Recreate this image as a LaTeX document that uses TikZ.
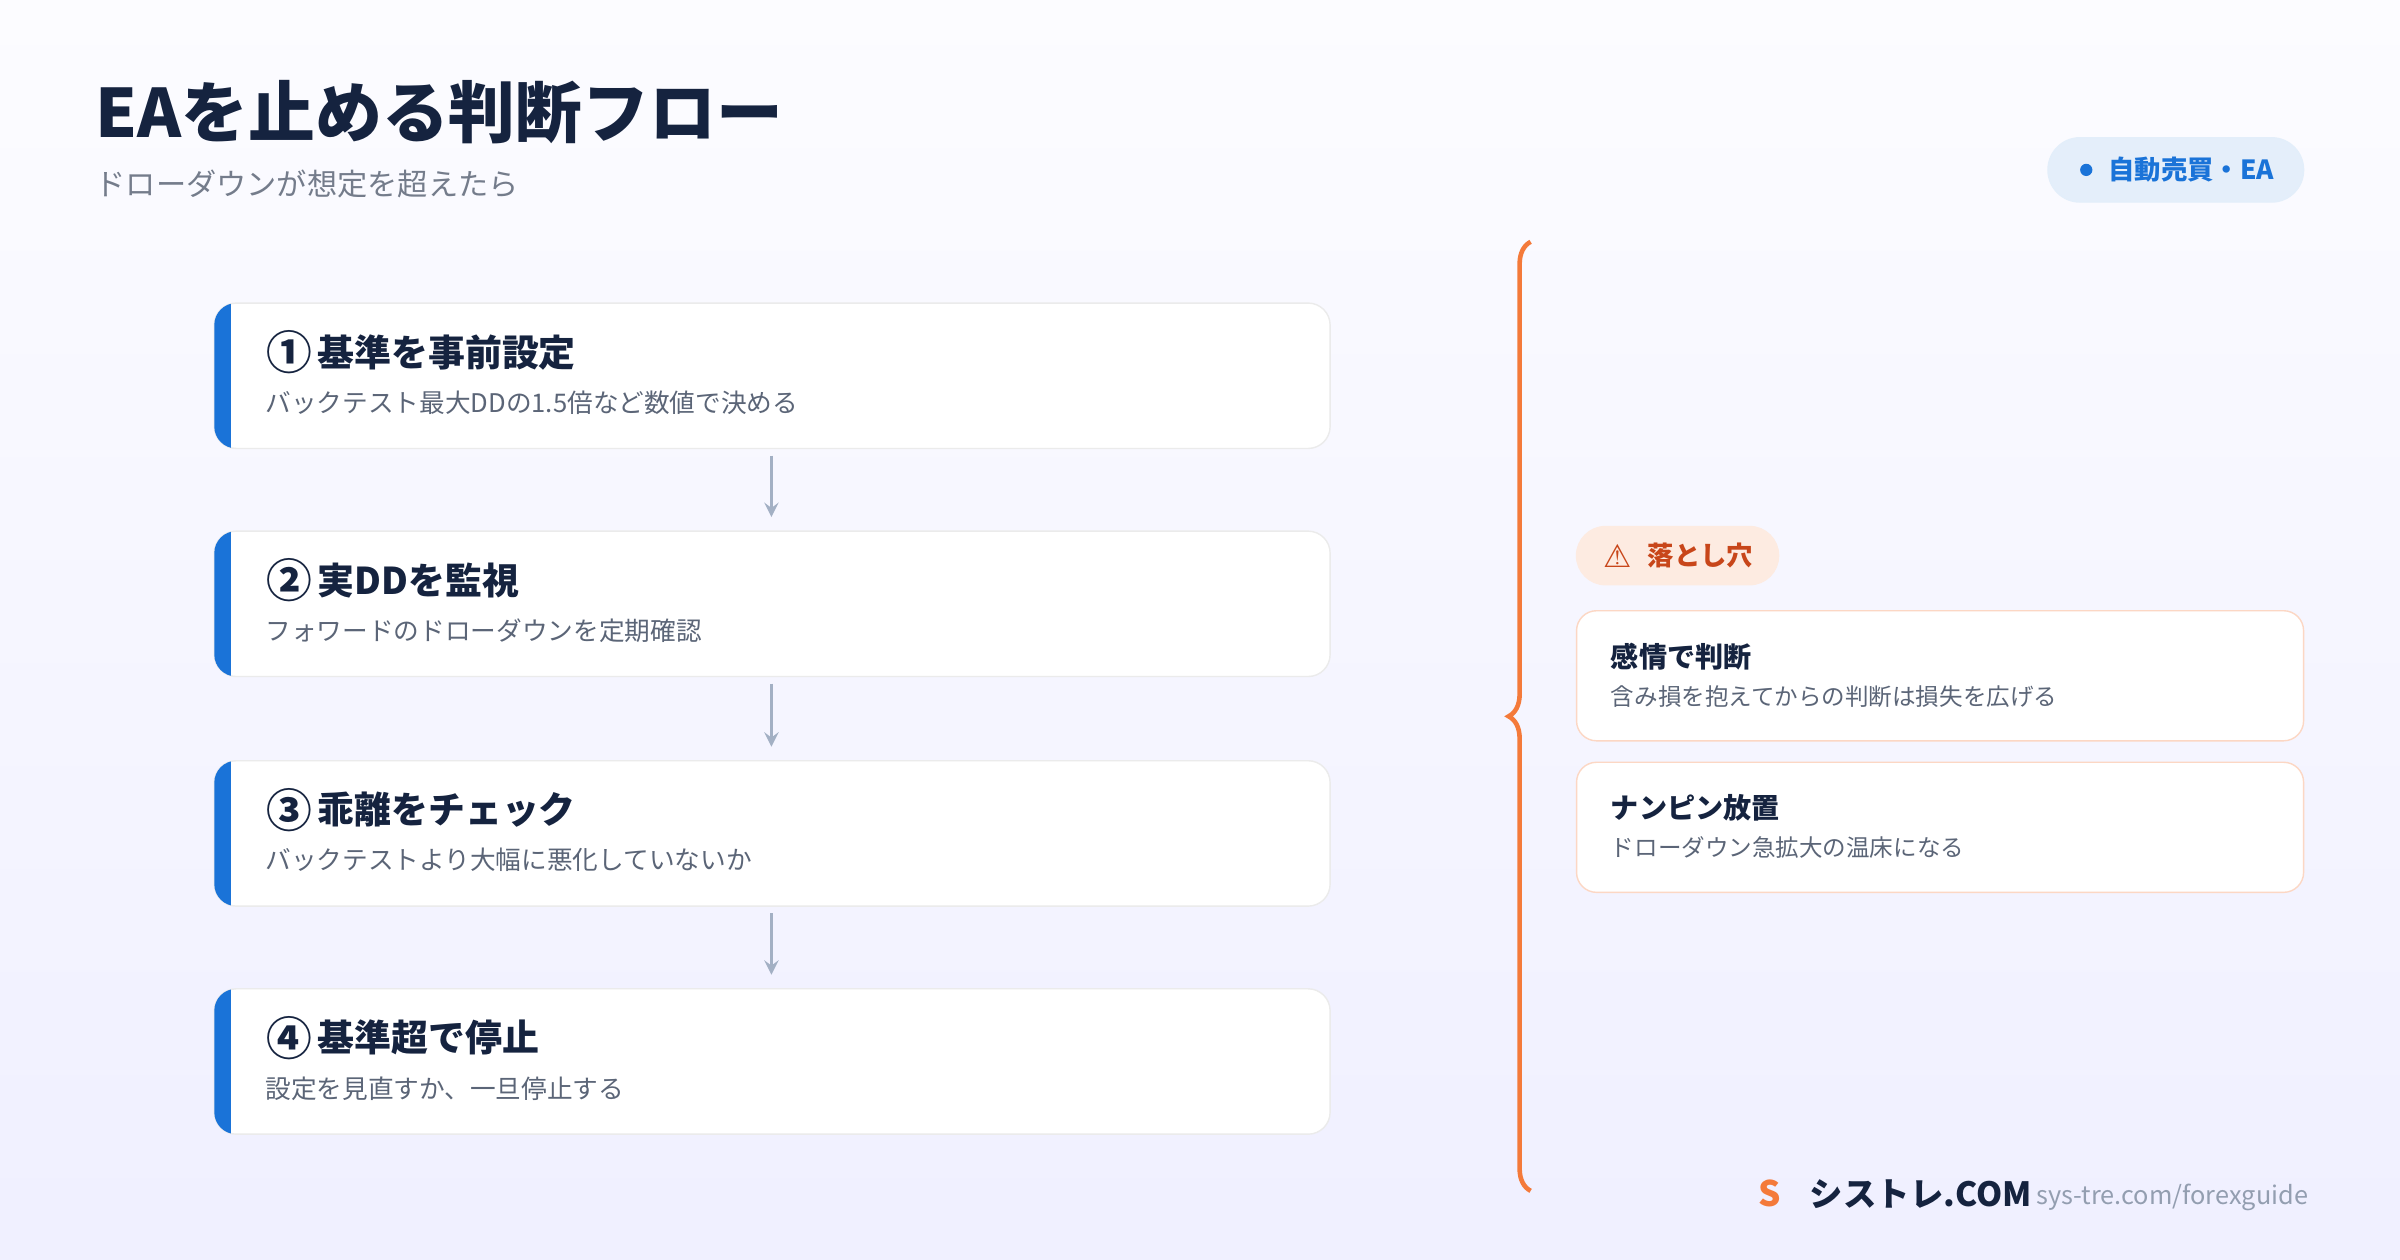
\documentclass[tikz,border=0pt]{standalone}
\usepackage{fontspec}
\setmainfont{Noto Sans CJK JP}
\newfontfamily\symfont{DejaVu Sans}
\usetikzlibrary{positioning, calc, decorations.pathreplacing}

\definecolor{ink}{HTML}{15233F}
\definecolor{mute}{HTML}{5B6577}
\definecolor{accent}{HTML}{1A73D8}
\definecolor{warn}{HTML}{F47A3A}
\definecolor{warntext}{HTML}{C8461A}
\definecolor{slate}{HTML}{A3B0C4}

\begin{document}
\begin{tikzpicture}[x=0.015306cm,y=-0.015306cm]

\tikzstyle{card}  = [fill=white, draw=black!8, rounded corners=0.22cm]
\tikzstyle{pitcard}  = [fill=white, draw=warn!30, rounded corners=0.2cm]
\tikzstyle{flow}  = [->, >=stealth, draw=slate, thick]
\tikzstyle{steptitle}  = [anchor=west, inner sep=0pt, text=ink, font=\fontsize{10.5}{12}\selectfont\bfseries]
\tikzstyle{stepdesc}  = [anchor=west, inner sep=0pt, text=mute, font=\fontsize{7.3}{8}\selectfont]

% background
\shade[top color=white!60!blue!3, bottom color=blue!6!white] (0,0) rectangle (1568,823);
\useasboundingbox (0,0) rectangle (1568,823);

% header
\node (title) [anchor=west, inner sep=0pt, text=ink, font=\fontsize{19}{22}\selectfont\bfseries] at (62,73) {EAを止める判断フロー};
\node (subtitle) [anchor=west, inner sep=0pt, text=mute!85, font=\fontsize{8.6}{10}\selectfont] at (62,120) {ドローダウンが想定を超えたら};

\draw[accent!12, fill=accent!12, rounded corners=0.32cm] (1338,90) rectangle (1505,132);
\fill[accent] (1363,111) circle (4);
\node (badge) [anchor=west, inner sep=0pt, text=accent, font=\fontsize{7.5}{9}\selectfont\bfseries] at (1377,111) {自動売買・EA};

% step cards
\def\stepcard#1#2#3#4#5{
\draw[card] (140,#1) rectangle (869,#1+95);
\begin{scope}
\clip[rounded corners=0.22cm] (140,#1) rectangle (869,#1+95);
\fill[accent] (140,#1) rectangle (151,#1+95);
\end{scope}
\node (#2n) [inner sep=0pt, text=ink, font=\fontsize{13}{14}\selectfont\bfseries] at (189,#1+32) {#3};
\node (#2) [steptitle] at (207,#1+32) {#4};
\node (#2d) [stepdesc] at (173,#1+65) {#5};
\coordinate (#2top) at (504,#1);
\coordinate (#2bot) at (504,#1+95);
}

\stepcard{198}{s1}{①}{基準を事前設定}{バックテスト最大DDの1.5倍など数値で決める};
\stepcard{347}{s2}{②}{実DDを監視}{フォワードのドローダウンを定期確認};
\stepcard{497}{s3}{③}{乖離をチェック}{バックテストより大幅に悪化していないか};
\stepcard{646}{s4}{④}{基準超で停止}{設定を見直すか、一旦停止する};

\draw[flow, shorten <=2pt, shorten >=4pt] (s1bot) -- (s2top);
\draw[flow, shorten <=2pt, shorten >=4pt] (s2bot) -- (s3top);
\draw[flow, shorten <=2pt, shorten >=4pt] (s3bot) -- (s4top);

% brace
\draw[warn, line width=1.3pt, decorate, decoration={brace, amplitude=0.22cm}] (1000,778) -- (1000,158);

% pitfalls
\draw[fill=warn!15, draw=warn!15, rounded corners=0.29cm] (1030,344) rectangle (1162,382);
\node (warnsym) [inner sep=0pt, text=warntext, font=\symfont\fontsize{9}{10}\selectfont] at (1057,363) {⚠};
\node (pit) [anchor=west, inner sep=0pt, text=warntext, font=\fontsize{7.5}{9}\selectfont\bfseries] at (1076,363) {落とし穴};

\def\pitcard#1#2#3#4{
\draw[pitcard] (1030,#1) rectangle (1505,#1+85);
\node (#2) [anchor=west, inner sep=0pt, text=ink, font=\fontsize{8}{10}\selectfont\bfseries] at (1052,#1+30) {#3};
\node (#2d) [anchor=west, inner sep=0pt, text=mute, font=\fontsize{6.7}{8}\selectfont] at (1052,#1+56) {#4};
}

\pitcard{399}{p1}{感情で判断}{含み損を抱えてからの判断は損失を広げる};
\pitcard{498}{p2}{ナンピン放置}{ドローダウン急拡大の温床になる};

% footer
\node (logo) [inner sep=0pt, text=warn, font=\fontsize{10}{12}\selectfont\bfseries] at (1156,780) {S};
\node (brand) [anchor=west, inner sep=0pt, text=ink, font=\fontsize{9.5}{11}\selectfont\bfseries] at (1182,780) {シストレ.COM};
\node (url) [anchor=west, inner sep=0pt, text=slate!90!black, font=\fontsize{7.2}{8}\selectfont] at (1330,782) {sys-tre.com/forexguide};

\end{tikzpicture}
\end{document}
